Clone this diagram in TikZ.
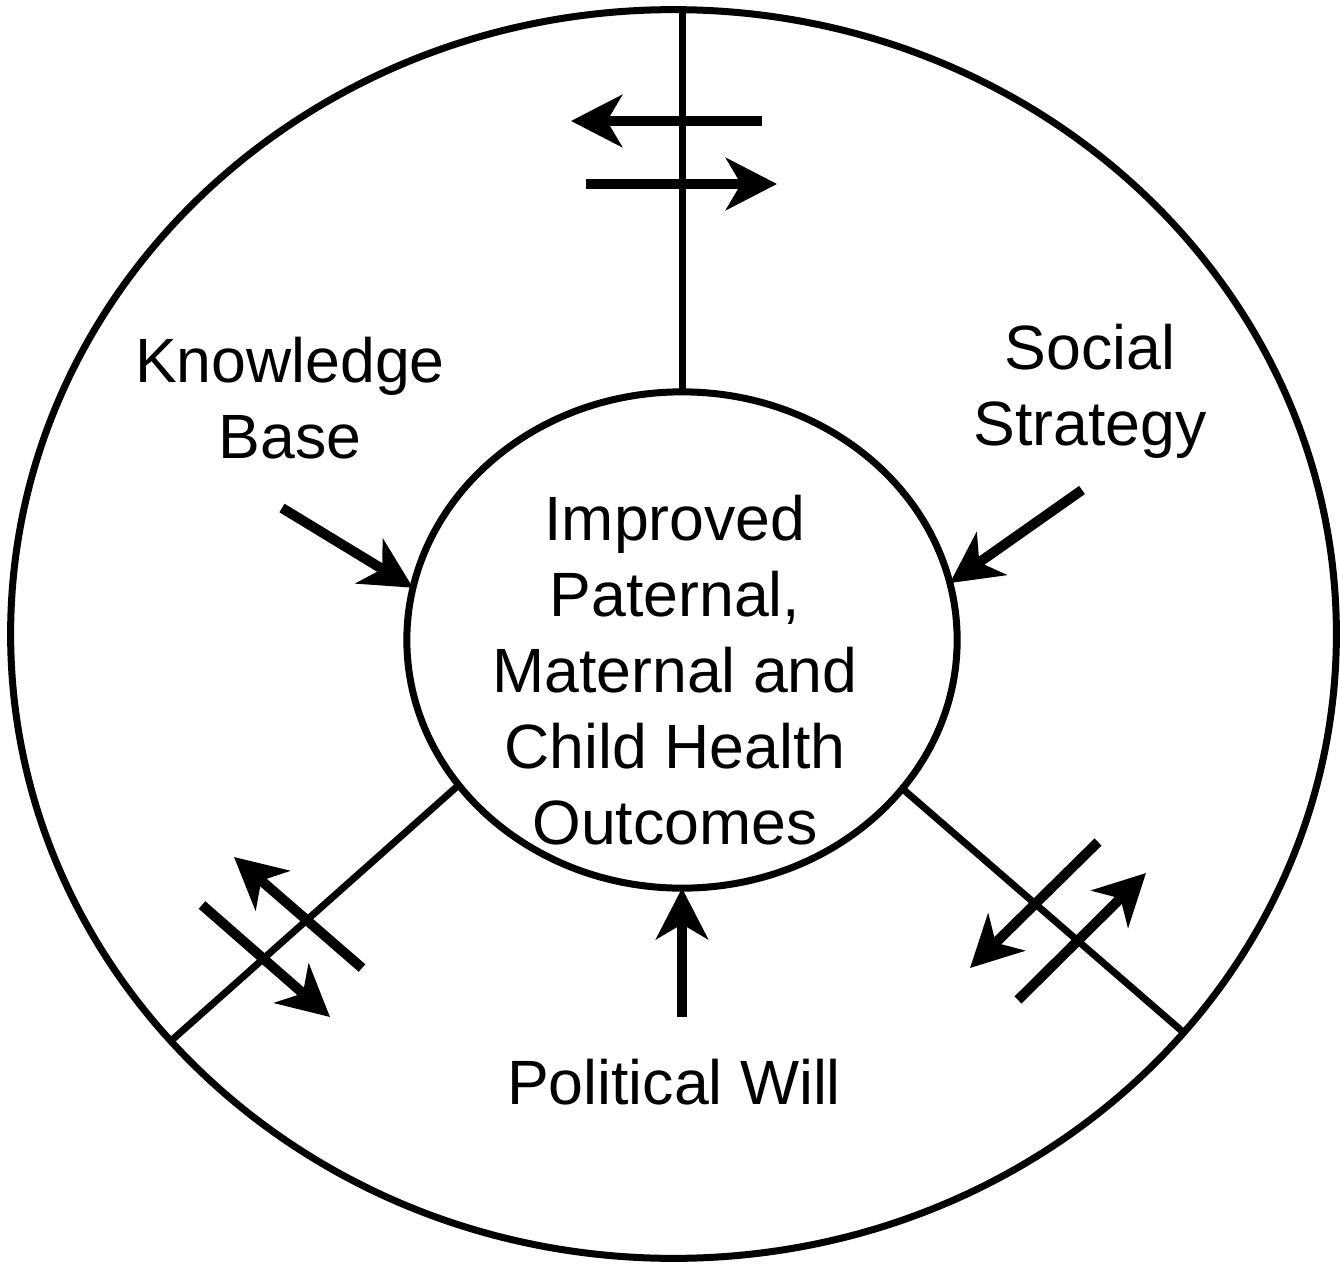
\documentclass[tikz,border=0pt]{standalone}
\usepackage{fontspec}
\setmainfont{Liberation Sans}
\usetikzlibrary{arrows.meta,shapes.geometric}
\tikzset{
  ring/.style  = {draw, ellipse, line width=0.07cm, inner sep=0, outer sep=0},
  spoke/.style = {line width=0.07cm},
  flow/.style  = {line width=0.1cm, -{Stealth[length=0.51cm,width=0.52cm,inset=0.15cm]}},
  lbl/.style   = {align=center, inner sep=0, font=\fontsize{17.8pt}{21.6pt}\selectfont}
}

\begin{document}
\begin{tikzpicture}[x=0.01cm,y=-0.01cm]
  \useasboundingbox (0,0) rectangle (1340,1264);
  % outer ring and hub
  \node[ring,minimum width=13.25cm,minimum height=12.48cm] (rim) at (673.5,634) {};
  \node[ring,minimum width=5.5cm,minimum height=4.96cm] (hub) at (682,640) {};
  % spokes
  \draw[spoke] (hub.north) -- (hub.north |- rim.north);
  \draw[spoke] (hub.213) -- (rim.219);
  \draw[spoke] (hub.326) -- (rim.322);
  % tails of the inward arrows
  \coordinate (kbtail) at (282,508);
  \coordinate (sstail) at (1082,490);
  \coordinate (pwtail) at (682,1017);
  % inward arrows
  \draw[flow] (kbtail) -- (hub.169);
  \draw[flow] (sstail) -- (hub.12);
  \draw[flow] (pwtail) -- (hub.south);
  % top spoke arrows
  \coordinate (topAa) at (762,121);
  \coordinate (topAb) at (571,121);
  \coordinate (topBa) at (586,184);
  \coordinate (topBb) at (777,184);
  \draw[flow] (topAa) -- (topAb);
  \draw[flow] (topBa) -- (topBb);
  % left spoke arrows
  \coordinate (leftAa) at (362,968);
  \coordinate (leftAb) at (234,857);
  \coordinate (leftBa) at (202,905);
  \coordinate (leftBb) at (330,1017);
  \draw[flow] (leftAa) -- (leftAb);
  \draw[flow] (leftBa) -- (leftBb);
  % right spoke arrows
  \coordinate (rightAa) at (1098,842);
  \coordinate (rightAb) at (970,968);
  \coordinate (rightBa) at (1018,1000);
  \coordinate (rightBb) at (1146,873);
  \draw[flow] (rightAa) -- (rightAb);
  \draw[flow] (rightBa) -- (rightBb);
  % labels
  \node[lbl] (goal) at (675,670) {Improved\\Paternal,\\Maternal and\\Child Health\\Outcomes};
  \node[lbl] (kb) at (290,398) {Knowledge\\Base};
  \node[lbl] (ss) at (1090,391) {Social\\Strategy};
  \node[lbl] (pw) at (674,1082) {Political Will};
\end{tikzpicture}
\end{document}
